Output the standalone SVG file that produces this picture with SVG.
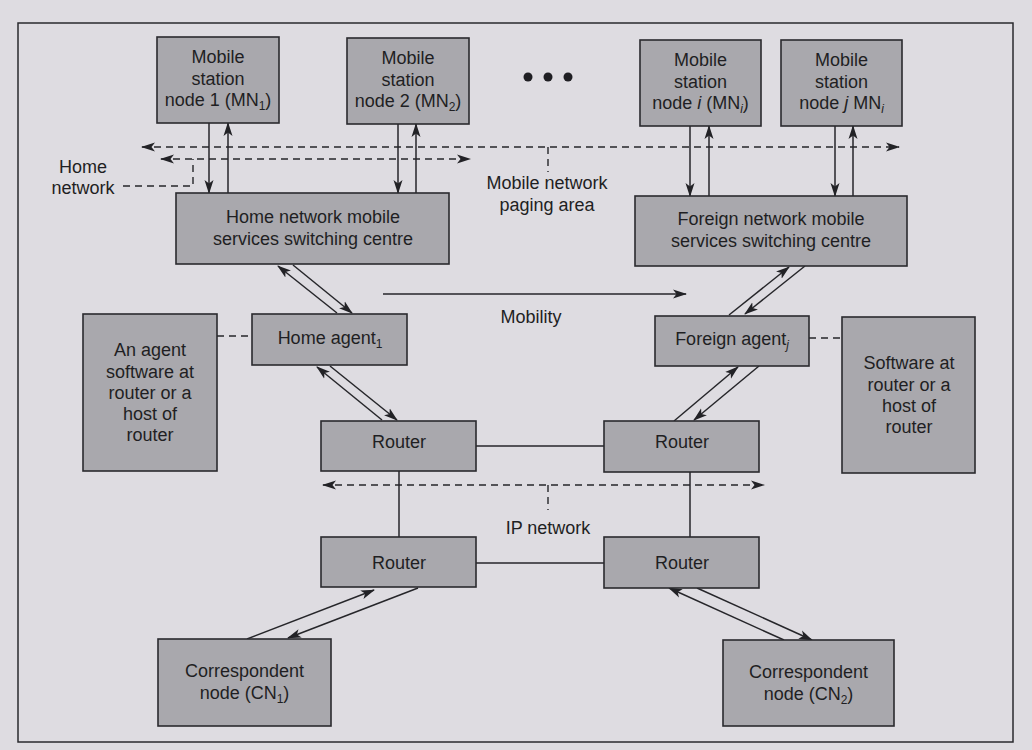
<svg xmlns="http://www.w3.org/2000/svg" width="1032" height="750" viewBox="0 0 1032 750">
<defs>
<style>
.bg{fill:#dedce1}
.frame{fill:none;stroke:#2a2a2e;stroke-width:1.5}
.box{fill:#a9a8ad;stroke:#2a2a2e;stroke-width:1.6}
.t{font-family:"Liberation Sans",Arial,sans-serif;font-size:18px;fill:#1f1f23;text-anchor:middle}
.s{font-size:12px}
.i{font-style:italic}
.ln{stroke:#26262a;stroke-width:1.5;fill:none}
.ar{marker-end:url(#ah)}
.dash{stroke:#26262a;stroke-width:1.4;fill:none;stroke-dasharray:7 5}
.both{marker-start:url(#ah);marker-end:url(#ah)}
</style>
<marker id="ah" viewBox="0 0 14 10" refX="13" refY="5" markerWidth="14" markerHeight="10" markerUnits="userSpaceOnUse" orient="auto-start-reverse">
<path d="M0,0.5 L14,5 L0,9.5 L3.5,5 z" fill="#222226"/>
</marker>
</defs>
<rect class="bg" x="0" y="0" width="1032" height="750"/>
<rect class="frame" x="18" y="23" width="995" height="719"/>

<g id="connectors">
<!-- MN to MSC -->
<line class="ln ar" x1="209" y1="123" x2="209" y2="193"/>
<line class="ln ar" x1="228" y1="193" x2="228" y2="123"/>
<line class="ln ar" x1="398" y1="124" x2="398" y2="193"/>
<line class="ln ar" x1="416" y1="193" x2="416" y2="124"/>
<line class="ln ar" x1="690" y1="126" x2="690" y2="196"/>
<line class="ln ar" x1="709" y1="196" x2="709" y2="126"/>
<line class="ln ar" x1="835" y1="126" x2="835" y2="196"/>
<line class="ln ar" x1="853" y1="196" x2="853" y2="126"/>
<!-- paging area dashed -->
<line class="dash both" x1="142" y1="147" x2="899" y2="147"/>
<line class="dash both" x1="161" y1="159" x2="470" y2="159"/>
<line class="dash" x1="548" y1="147" x2="548" y2="172"/>
<path class="dash" d="M123,186 H193 V159"/>
<!-- MSC to agents -->
<line class="ln ar" x1="337" y1="313" x2="278" y2="266"/>
<line class="ln ar" x1="293" y1="265" x2="352" y2="313"/>
<line class="ln ar" x1="729" y1="315" x2="789" y2="267"/>
<line class="ln ar" x1="805" y1="266" x2="745" y2="314"/>
<!-- agents to routers -->
<line class="ln ar" x1="382" y1="420" x2="317" y2="367"/>
<line class="ln ar" x1="330" y1="366" x2="397" y2="420"/>
<line class="ln ar" x1="674" y1="421" x2="738" y2="367"/>
<line class="ln ar" x1="759" y1="366" x2="694" y2="420"/>
<!-- mobility -->
<line class="ln ar" x1="383" y1="294" x2="686" y2="294"/>
<!-- agent software dashed -->
<line class="dash" x1="217" y1="336" x2="252" y2="336"/>
<line class="dash" x1="809" y1="338" x2="842" y2="338"/>
<!-- IP network -->
<line class="ln" x1="476" y1="446" x2="604" y2="446"/>
<line class="ln" x1="476" y1="563" x2="604" y2="563"/>
<line class="ln" x1="399" y1="471" x2="399" y2="537"/>
<line class="ln" x1="690" y1="472" x2="690" y2="537"/>
<line class="dash both" x1="323" y1="485" x2="764" y2="485"/>
<line class="dash" x1="548" y1="485" x2="548" y2="510"/>
<!-- routers to CNs -->
<line class="ln ar" x1="247" y1="639" x2="374" y2="590"/>
<line class="ln ar" x1="418" y1="588" x2="288" y2="638"/>
<line class="ln ar" x1="784" y1="640" x2="669" y2="588"/>
<line class="ln ar" x1="697" y1="588" x2="812" y2="640"/>
</g>

<g id="mn1"><rect class="box" x="157" y="37" width="122" height="86"/>
<text class="t" x="218" y="63">Mobile</text><text class="t" x="218" y="85">station</text>
<text class="t" x="218" y="106">node 1 (MN<tspan class="s" dy="4">1</tspan><tspan dy="-4">)</tspan></text></g>

<g id="mn2"><rect class="box" x="347" y="38" width="122" height="86"/>
<text class="t" x="408" y="64">Mobile</text><text class="t" x="408" y="86">station</text>
<text class="t" x="408" y="107">node 2 (MN<tspan class="s" dy="4">2</tspan><tspan dy="-4">)</tspan></text></g>

<g id="dots" fill="#1f1f23"><circle cx="528" cy="77" r="4.5"/><circle cx="548" cy="77" r="4.5"/><circle cx="568" cy="77" r="4.5"/></g>

<g id="mni"><rect class="box" x="640" y="40" width="121" height="86"/>
<text class="t" x="700.5" y="66">Mobile</text><text class="t" x="700.5" y="88">station</text>
<text class="t" x="700.5" y="109">node <tspan class="i">i</tspan> (MN<tspan class="s i" dy="4">i</tspan><tspan dy="-4">)</tspan></text></g>

<g id="mnj"><rect class="box" x="781" y="40" width="121" height="86"/>
<text class="t" x="841.5" y="66">Mobile</text><text class="t" x="841.5" y="88">station</text>
<text class="t" x="841.5" y="109">node <tspan class="i">j</tspan> MN<tspan class="s i" dy="4">i</tspan></text></g>

<g id="home-network-label"><text class="t" x="83" y="173">Home</text><text class="t" x="83" y="194">network</text></g>
<g id="paging-label"><text class="t" x="547" y="189">Mobile network</text><text class="t" x="547" y="211">paging area</text></g>

<g id="home-msc"><rect class="box" x="176" y="193" width="273" height="71"/>
<text class="t" x="313" y="223">Home network mobile</text><text class="t" x="313" y="245">services switching centre</text></g>

<g id="foreign-msc"><rect class="box" x="635" y="196" width="272" height="70"/>
<text class="t" x="771" y="225">Foreign network mobile</text><text class="t" x="771" y="247">services switching centre</text></g>

<g id="mobility-label"><text class="t" x="531" y="323">Mobility</text></g>

<g id="agent-software"><rect class="box" x="83" y="314" width="134" height="157"/>
<text class="t" x="150" y="356">An agent</text><text class="t" x="150" y="378">software at</text>
<text class="t" x="150" y="399">router or a</text><text class="t" x="150" y="420">host of</text><text class="t" x="150" y="441">router</text></g>

<g id="home-agent"><rect class="box" x="252" y="314" width="155" height="51"/>
<text class="t" x="330" y="344">Home agent<tspan class="s" dy="4">1</tspan></text></g>

<g id="foreign-agent"><rect class="box" x="655" y="316" width="154" height="50"/>
<text class="t" x="732" y="345">Foreign agent<tspan class="s i" dy="4">j</tspan></text></g>

<g id="software-right"><rect class="box" x="842" y="317" width="133" height="156"/>
<text class="t" x="909" y="369">Software at</text><text class="t" x="909" y="391">router or a</text>
<text class="t" x="909" y="412">host of</text><text class="t" x="909" y="433">router</text></g>

<g id="router-tl"><rect class="box" x="321" y="421" width="155" height="50"/><text class="t" x="399" y="448">Router</text></g>
<g id="router-tr"><rect class="box" x="604" y="421" width="155" height="51"/><text class="t" x="682" y="448">Router</text></g>
<g id="ip-label"><text class="t" x="548" y="534">IP network</text></g>
<g id="router-bl"><rect class="box" x="321" y="537" width="155" height="50"/><text class="t" x="399" y="569">Router</text></g>
<g id="router-br"><rect class="box" x="604" y="537" width="155" height="51"/><text class="t" x="682" y="569">Router</text></g>

<g id="cn1"><rect class="box" x="158" y="639" width="173" height="87"/>
<text class="t" x="244.5" y="677">Correspondent</text>
<text class="t" x="244.5" y="699">node (CN<tspan class="s" dy="4">1</tspan><tspan dy="-4">)</tspan></text></g>

<g id="cn2"><rect class="box" x="723" y="640" width="171" height="86"/>
<text class="t" x="808.5" y="678">Correspondent</text>
<text class="t" x="808.5" y="700">node (CN<tspan class="s" dy="4">2</tspan><tspan dy="-4">)</tspan></text></g>
</svg>
